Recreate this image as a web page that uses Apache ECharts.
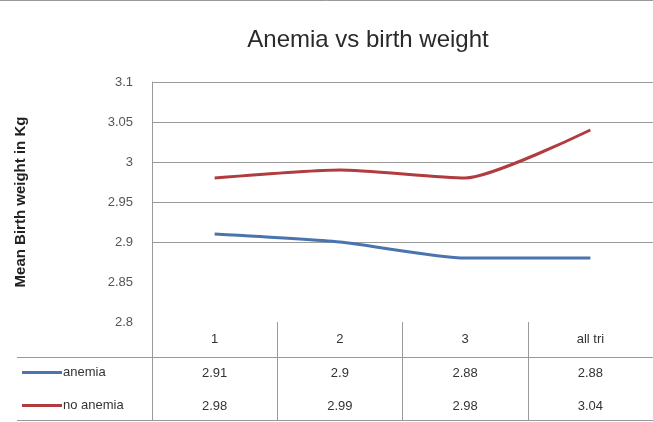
<!DOCTYPE html>
<html>
<head>
<meta charset="utf-8">
<script src="https://cdn.jsdelivr.net/npm/echarts@6/dist/echarts.min.js"></script>
<style>html,body{margin:0;padding:0;background:#fff}#c{width:653px;height:422px}</style>
</head>
<body>
<div id="c"></div>
<script>
var categories = ['1', '2', '3', 'all tri'];
var seriesNames = ['anemia', 'no anemia'];
var anemia = [2.91, 2.9, 2.88, 2.88];
var noAnemia = [2.98, 2.99, 2.98, 3.04];
var yTicks = [2.8, 2.85, 2.9, 2.95, 3, 3.05, 3.1];

var chart = echarts.init(document.getElementById('c'), null, {renderer: 'canvas'});
var gridCol = '#9a9a9a';
var font = '"Liberation Sans", Arial, sans-serif';
var option = {
  animation: false,
  backgroundColor: '#fff',
  title: {
    text: 'Anemia vs birth weight',
    left: 363, top: 23, textAlign: 'center',
    textStyle: {fontFamily: font, fontSize: 24, fontWeight: 'normal', color: '#2a2a2a'}
  },
  legend: {
    orient: 'vertical', left: 22, top: 364, padding: 0,
    itemWidth: 40, itemHeight: 3, itemGap: 16,
    icon: 'rect',
    data: seriesNames,
    textStyle: {fontFamily: font, fontSize: 13, color: '#333', lineHeight: 15, padding: [2, 0, 0, -4]}
  },
  grid: {left: 152, right: -1, top: 82, bottom: 100, containLabel: false},
  xAxis: {
    type: 'category', data: categories, boundaryGap: true,
    axisLine: {show: false},
    axisTick: {show: true, interval: 0, length: 99, lineStyle: {color: gridCol, width: 1}},
    axisLabel: {
      interval: 0, margin: 0,
      formatter: function (v, i) {
        return '{h|' + v + '}\n{r|' + anemia[i] + '}\n{r|' + noAnemia[i] + '}';
      },
      rich: {
        h: {fontFamily: font, fontSize: 13, color: '#333', lineHeight: 35},
        r: {fontFamily: font, fontSize: 13, color: '#333', lineHeight: 33}
      }
    }
  },
  yAxis: {
    type: 'value', min: 2.8, max: 3.1, interval: 0.05,
    name: 'Mean Birth weight in Kg', nameLocation: 'middle', nameGap: 124,
    nameTextStyle: {fontFamily: font, fontSize: 15, fontWeight: 'bold', color: '#222'},
    axisLine: {show: true, lineStyle: {color: gridCol, width: 1}},
    axisTick: {show: false},
    axisLabel: {
      margin: 19, fontFamily: font, fontSize: 13, color: '#555',
      formatter: function (v) { return String(+v.toFixed(2)); }
    },
    splitLine: {show: true, lineStyle: {color: ['rgba(0,0,0,0)', 'rgba(0,0,0,0)', gridCol, gridCol, gridCol, gridCol, gridCol], width: 1}}
  },
  series: [
    {name: seriesNames[0], type: 'line', data: anemia, smooth: 0.2, showSymbol: false,
     lineStyle: {color: '#4a74ae', width: 3}, itemStyle: {color: '#4a74ae'}},
    {name: seriesNames[1], type: 'line', data: noAnemia, smooth: 0.2, showSymbol: false,
     lineStyle: {color: '#b03c3f', width: 3}, itemStyle: {color: '#b03c3f'}}
  ],
  graphic: [
    {type: 'line', shape: {x1: 0, y1: 0.5, x2: 653, y2: 0.5}, style: {stroke: '#999', lineWidth: 1}},
    {type: 'line', shape: {x1: 17, y1: 357.5, x2: 653, y2: 357.5}, style: {stroke: gridCol, lineWidth: 1}},
    {type: 'line', shape: {x1: 17, y1: 420.5, x2: 653, y2: 420.5}, style: {stroke: gridCol, lineWidth: 1}}
  ]
};
chart.setOption(option);
</script>
</body>
</html>
